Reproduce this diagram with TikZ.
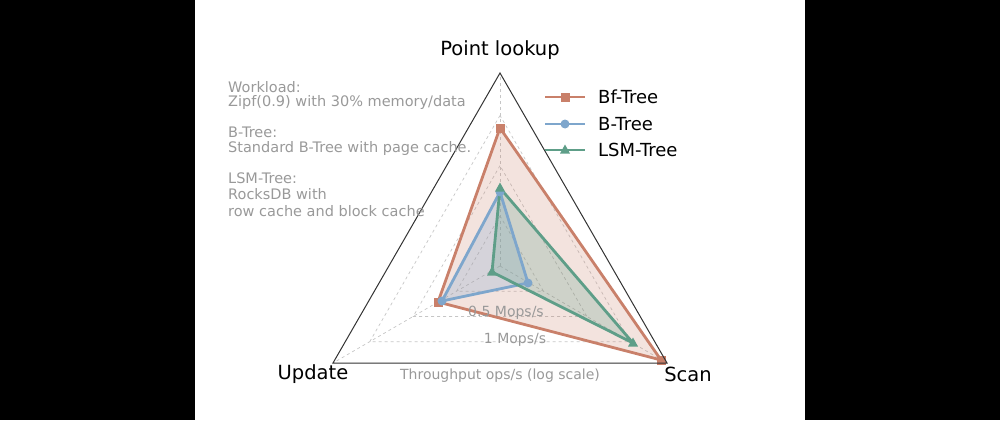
\documentclass[tikz,border=0pt]{standalone}
\usepackage{fontspec}
\setmainfont{DejaVu Sans}
\usetikzlibrary{calc}
\definecolor{bf}{HTML}{C9806A}
\definecolor{bt}{HTML}{7EA6CC}
\definecolor{ls}{HTML}{5E9E88}
\definecolor{gt}{HTML}{999999}
\begin{document}
\begin{tikzpicture}[x=1pt,y=-1pt,
  grid/.style={draw=gray!45,dashed,line width=0.7pt},
  ser/.style={line width=2.8pt,line join=round},
  gl/.style={text=gt,font=\fontsize{14.5}{17}\selectfont,anchor=west,inner sep=0pt},
  gm/.style={text=gt,font=\fontsize{14}{17}\selectfont,inner sep=0pt},
  ax/.style={font=\fontsize{19.5}{22}\selectfont,inner sep=0pt},
  lg/.style={font=\fontsize{18}{21}\selectfont,anchor=west,inner sep=0pt}]
\useasboundingbox (0,0) rectangle (1000,420);
\fill[black] (0,0) rectangle (195,420);
\fill[black] (805,0) rectangle (1000,420);
\coordinate (c) at (500,266);
\coordinate (A) at (500,73);
\coordinate (L) at (333,363);
\coordinate (R) at (667,363);
% grid
\foreach \f in {0.26,0.52,0.78}{
  \draw[grid] ($(c)!\f!(A)$) -- ($(c)!\f!(L)$) -- ($(c)!\f!(R)$) -- cycle;}
\draw[grid] (c) -- (A); \draw[grid] (c) -- (L); \draw[grid] (c) -- (R);
% series
\coordinate (bfA) at (500,128); \coordinate (bfL) at (438,302); \coordinate (bfR) at (661,360);
\coordinate (btA) at (500,192); \coordinate (btL) at (442,301); \coordinate (btR) at (528,283);
\coordinate (lsA) at (500,188); \coordinate (lsL) at (492,272); \coordinate (lsR) at (633,343);
\fill[bf,opacity=0.22] (bfA) -- (bfR) -- (bfL) -- cycle;
\fill[bt,opacity=0.25] (btA) -- (btR) -- (btL) -- cycle;
\fill[ls,opacity=0.25] (lsA) -- (lsR) -- (lsL) -- cycle;
\draw[ser,bf] (bfA) -- (bfR) -- (bfL) -- cycle;
\draw[ser,bt] (btA) -- (btR) -- (btL) -- cycle;
\draw[ser,ls] (lsA) -- (lsR) -- (lsL) -- cycle;
\foreach \p in {bfA,bfL,bfR}{\fill[bf] ($(\p)+(-4.5,-4.5)$) rectangle ($(\p)+(4.5,4.5)$);}
\foreach \p in {btA,btL,btR}{\fill[bt] (\p) circle (4.5);}
\foreach \p in {lsA,lsL,lsR}{\fill[ls] ($(\p)+(0,-5.5)$) -- ($(\p)+(5,3.5)$) -- ($(\p)+(-5,3.5)$) -- cycle;}
% outer
\draw[black!80,line width=1pt] (A) -- (R) -- (L) -- cycle;
% axis labels
\node[ax] (pl) at (500,50) {Point lookup};
\node[ax] (up) at (313,374) {Update};
\node[ax] (sc) at (688,374) {Scan};
\node[gm] (m05) at (506,313) {0.5 Mops/s};
\node[gm] (m1) at (515,340) {1 Mops/s};
\node[gm] (tp) at (500,376) {Throughput ops/s (log scale)};
% notes
\node[gl] (n1) at (228,87) {Workload:};
\node[gl] (n2) at (228,102) {Zipf(0.9) with 30\% memory/data};
\node[gl] (n3) at (228,132) {B-Tree:};
\node[gl] (n4) at (228,148) {Standard B-Tree with page cache.};
\node[gl] (n5) at (228,178) {LSM-Tree:};
\node[gl] (n6) at (228,194) {RocksDB with};
\node[gl] (n7) at (228,211) {row cache and block cache};
% legend
\coordinate (l1a) at (545,97); \coordinate (l1b) at (585,97);
\coordinate (l2a) at (545,124); \coordinate (l2b) at (585,124);
\coordinate (l3a) at (545,150); \coordinate (l3b) at (585,150);
\draw[ser,bf] (l1a) -- (l1b); \fill[bf] (560.5,92.5) rectangle (569.5,101.5);
\draw[ser,bt] (l2a) -- (l2b); \fill[bt] (565,124) circle (4.5);
\draw[ser,ls] (l3a) -- (l3b); \fill[ls] (565,144.5) -- (570,153.5) -- (560,153.5) -- cycle;
\node[lg] (t1) at (598,97) {Bf-Tree};
\node[lg] (t2) at (598,124) {B-Tree};
\node[lg] (t3) at (598,150) {LSM-Tree};
\end{tikzpicture}
\end{document}
